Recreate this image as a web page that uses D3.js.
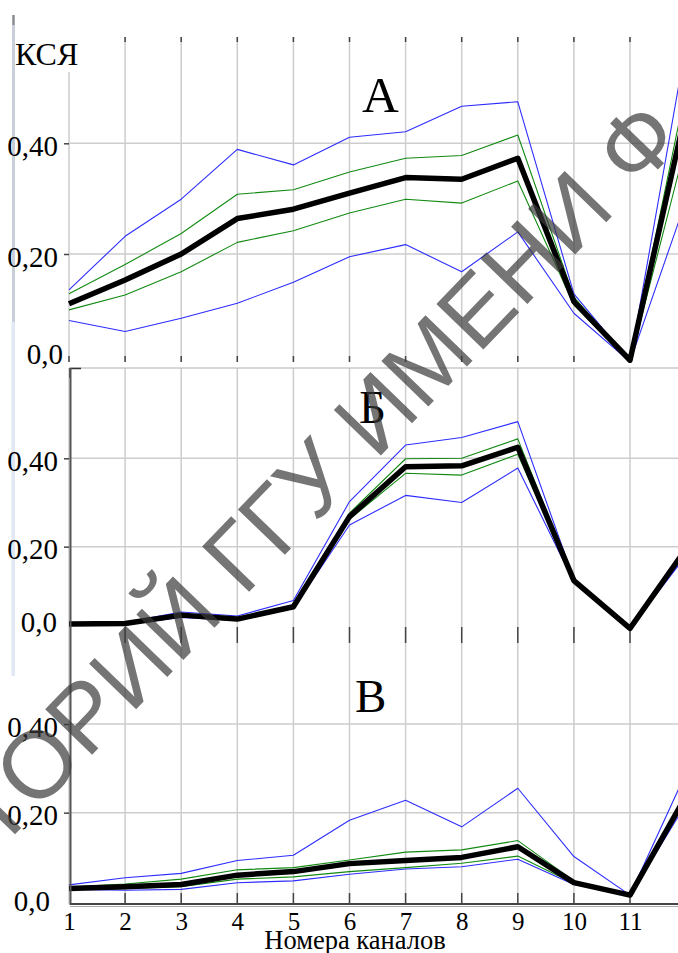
<!DOCTYPE html>
<html>
<head>
<meta charset="utf-8">
<script src="https://cdn.jsdelivr.net/npm/d3@7"></script>
<style>
  html, body { margin: 0; padding: 0; background: #fff; }
  svg { display: block; }
</style>
</head>
<body>
<svg id="chart" width="678" height="953"></svg>
<script>
// Channel numbers and axis text
const channels = [1, 2, 3, 4, 5, 6, 7, 8, 9, 10, 11, 12];
const xTickValues = [1, 2, 3, 4, 5, 6, 7, 8, 9, 10, 11];
const xTickLabels = ["1", "2", "3", "4", "5", "6", "7", "8", "9", "10", "11"];
const yTickValues = [0, 0.2, 0.4];
const yTickLabels = ["0,0", "0,20", "0,40"];
const panelTitles = ["А", "Б", "В"];
const yAxisTitle = "КСЯ";
const xAxisTitle = "Номера каналов";
const watermarkText = "РЕПОЗИТОРИЙ ГГУ ИМЕНИ Ф. СКОРИНЫ";

// Panel А: mean (black), inner band (green), outer band (blue)
const meanA       = [0.110, 0.153, 0.200, 0.264, 0.281, 0.310, 0.338, 0.335, 0.373, 0.114, 0.008, 0.460];
const upperGreenA = [0.128, 0.181, 0.237, 0.308, 0.316, 0.348, 0.373, 0.378, 0.415, 0.122, 0.007, 0.500];
const lowerGreenA = [0.099, 0.126, 0.168, 0.221, 0.242, 0.274, 0.299, 0.292, 0.332, 0.108, 0.005, 0.400];
const upperBlueA  = [0.135, 0.232, 0.299, 0.389, 0.361, 0.411, 0.421, 0.467, 0.475, 0.128, 0.006, 0.580];
const lowerBlueA  = [0.080, 0.060, 0.084, 0.111, 0.149, 0.195, 0.217, 0.168, 0.240, 0.093, 0.005, 0.297];

// Panel Б
const meanB       = [0.025, 0.026, 0.045, 0.036, 0.064, 0.268, 0.381, 0.383, 0.425, 0.123, 0.015, 0.195];
const upperGreenB = [0.026, 0.027, 0.047, 0.038, 0.067, 0.276, 0.399, 0.400, 0.444, 0.124, 0.015, 0.198];
const lowerGreenB = [0.025, 0.025, 0.043, 0.035, 0.062, 0.262, 0.366, 0.362, 0.409, 0.122, 0.015, 0.192];
const upperBlueB  = [0.026, 0.029, 0.052, 0.043, 0.078, 0.302, 0.430, 0.447, 0.483, 0.126, 0.016, 0.185];
const lowerBlueB  = [0.024, 0.024, 0.040, 0.033, 0.060, 0.249, 0.316, 0.300, 0.378, 0.120, 0.015, 0.180];

// Panel В
const meanC       = [0.029, 0.033, 0.038, 0.059, 0.067, 0.085, 0.092, 0.099, 0.123, 0.042, 0.014, 0.238];
const upperGreenC = [0.032, 0.039, 0.050, 0.071, 0.076, 0.093, 0.111, 0.116, 0.137, 0.046, 0.015, 0.245];
const lowerGreenC = [0.027, 0.029, 0.033, 0.050, 0.055, 0.067, 0.076, 0.086, 0.102, 0.040, 0.013, 0.228];
const upperBlueC  = [0.037, 0.053, 0.063, 0.092, 0.104, 0.183, 0.228, 0.168, 0.255, 0.101, 0.014, 0.290];
const lowerBlueC  = [0.027, 0.025, 0.027, 0.042, 0.046, 0.061, 0.073, 0.078, 0.095, 0.038, 0.013, 0.220];

// Styling and layout
const SERIF = "'Liberation Serif', 'Times New Roman', serif";
const SANS = "'Liberation Sans', Arial, sans-serif";
const GRID = "#cdcdcd";
const TICK = "#444";
const BLUE = "#2d2dff";
const GREEN = "#128a12";

const panels = [
  { title: panelTitles[0], mean: meanA, greens: [upperGreenA, lowerGreenA], blues: [upperBlueA, lowerBlueA],
    yZero: 364.7, yMax: 143.3, gridTop: 37, firstGridTop: 72, gridBottom: 362, clipTop: 20, clipBottom: 363,
    titleX: 362, titleY: 112, titleSize: 51, zeroLabelX: 63, zeroLabelShift: -10,
    topTicks: [37, 42], bottomTicks: [356, 362] },
  { title: panelTitles[1], mean: meanB, greens: [upperGreenB, lowerGreenB], blues: [upperBlueB, lowerBlueB],
    yZero: 635, yMax: 458.3, gridTop: 368, firstGridTop: 368, gridBottom: 650, clipTop: 368, clipBottom: 650,
    titleX: 359, titleY: 423, titleSize: 47, zeroLabelX: 57, zeroLabelShift: -12,
    topTicks: null, bottomTicks: [627, 643] },
  { title: panelTitles[2], mean: meanC, greens: [upperGreenC, lowerGreenC], blues: [upperBlueC, lowerBlueC],
    yZero: 901.3, yMax: 724, gridTop: 650, firstGridTop: 650, gridBottom: 904, clipTop: 645, clipBottom: 903,
    titleX: 355, titleY: 712, titleSize: 47, zeroLabelX: 50, zeroLabelShift: 0,
    topTicks: null, bottomTicks: [893, 903] }
];

const svg = d3.select("#chart");
const x = d3.scaleLinear().domain([1, 12]).range([69, 686.1]);
const rightEdge = 678;

// thin bar at the far left
svg.append("rect").attr("x", 12).attr("y", 15).attr("width", 3).attr("height", 307).attr("fill", "#c9cfd8");
svg.append("rect").attr("x", 11.5).attr("y", 322).attr("width", 3.5).attr("height", 354).attr("fill", "#dfe8f3");
svg.append("rect").attr("x", 12.5).attr("y", 15).attr("width", 2).attr("height", 10).attr("fill", "#888");

const defs = svg.append("defs");

panels.forEach((p, i) => {
  const y = d3.scaleLinear().domain([0, 0.4]).range([p.yZero, p.yMax]);
  const g = svg.append("g");

  // vertical grid lines at each channel
  g.append("g").selectAll("line").data(xTickValues).join("line")
    .attr("x1", d => x(d)).attr("x2", d => x(d))
    .attr("y1", d => d === 1 ? p.firstGridTop : p.gridTop).attr("y2", p.gridBottom)
    .attr("stroke", GRID).attr("stroke-width", 1.5);

  // horizontal grid lines
  g.append("g").selectAll("line").data(yTickValues.filter(v => v > 0)).join("line")
    .attr("x1", x(1)).attr("x2", rightEdge)
    .attr("y1", d => y(d)).attr("y2", d => y(d))
    .attr("stroke", GRID).attr("stroke-width", 1.5);

  // short dark tick marks along the channel lines
  const tickSets = [p.topTicks, p.bottomTicks].filter(Boolean);
  tickSets.forEach(t => {
    g.append("g").selectAll("line").data(xTickValues.filter(d => d > 1 || t === p.bottomTicks && i === 0)).join("line")
      .attr("x1", d => x(d)).attr("x2", d => x(d))
      .attr("y1", t[0]).attr("y2", t[1])
      .attr("stroke", TICK).attr("stroke-width", 1.5);
  });

  // y axis: outward ticks and labels
  const yAxis = d3.axisLeft(y)
    .tickValues(yTickValues.filter(v => v > 0))
    .tickSize(5).tickPadding(6)
    .tickFormat(v => yTickLabels[yTickValues.indexOf(v)]);
  const ya = g.append("g").attr("transform", `translate(${x(1)},0)`).call(yAxis);
  ya.select(".domain").remove();
  ya.selectAll(".tick line").attr("stroke", TICK).attr("stroke-width", 1.5);
  ya.selectAll(".tick text")
    .attr("font-family", SERIF).attr("font-size", 29).attr("fill", "#000")
    .attr("dy", "0.32em").attr("y", 3);

  // zero label
  g.append("text")
    .attr("x", p.zeroLabelX).attr("y", y(0) + p.zeroLabelShift).attr("dy", "0.32em")
    .attr("text-anchor", "end")
    .attr("font-family", SERIF).attr("font-size", 29).attr("fill", "#000")
    .text(yTickLabels[0]);

  // clipped plotting area
  const clipId = "clip" + i;
  defs.append("clipPath").attr("id", clipId).append("rect")
    .attr("x", 60).attr("y", p.clipTop).attr("width", rightEdge - 60).attr("height", p.clipBottom - p.clipTop);
  const plot = g.append("g").attr("clip-path", `url(#${clipId})`);

  const line = d3.line().x((d, k) => x(channels[k])).y(d => y(d));

  plot.selectAll("path.blue").data(p.blues).join("path").attr("class", "blue")
    .attr("d", line).attr("fill", "none").attr("stroke", BLUE).attr("stroke-width", 1.1)
    .attr("stroke-linejoin", "round");
  plot.selectAll("path.green").data(p.greens).join("path").attr("class", "green")
    .attr("d", line).attr("fill", "none").attr("stroke", GREEN).attr("stroke-width", 1.1)
    .attr("stroke-linejoin", "round");
  plot.append("path").datum(p.mean)
    .attr("d", line).attr("fill", "none").attr("stroke", "#000").attr("stroke-width", 5.5)
    .attr("stroke-linejoin", "round");

  // panel title
  g.append("text")
    .attr("x", p.titleX).attr("y", p.titleY)
    .attr("font-family", SERIF).attr("font-size", p.titleSize).attr("fill", "#000")
    .text(p.title);
});

// frame of the lower two panels
svg.append("line").attr("x1", 70).attr("x2", rightEdge).attr("y1", 368).attr("y2", 368)
  .attr("stroke", "#b0b0b0").attr("stroke-width", 1.2);
svg.append("path").attr("d", "M70,378 V368.5 H81").attr("fill", "none").attr("stroke", "#333").attr("stroke-width", 1.5);
svg.append("line").attr("x1", 70.5).attr("x2", 70.5).attr("y1", 368).attr("y2", 905)
  .attr("stroke", "#555").attr("stroke-width", 2);
svg.append("line").attr("x1", 70).attr("x2", rightEdge).attr("y1", 904).attr("y2", 904)
  .attr("stroke", "#444").attr("stroke-width", 2);
svg.append("line").attr("x1", 70).attr("x2", rightEdge).attr("y1", 906.5).attr("y2", 906.5)
  .attr("stroke", "#aaa").attr("stroke-width", 1);

// channel numbers along the bottom
const xAxis = d3.axisBottom(x).tickValues(xTickValues).tickSize(0).tickPadding(0)
  .tickFormat(v => xTickLabels[xTickValues.indexOf(v)]);
const xa = svg.append("g").attr("transform", "translate(0,930)").call(xAxis);
xa.select(".domain").remove();
xa.selectAll(".tick text")
  .attr("font-family", SERIF).attr("font-size", 25).attr("fill", "#000")
  .attr("dy", 0).attr("y", 0);

// axis titles
svg.append("text").attr("x", 355).attr("y", 949).attr("text-anchor", "middle")
  .attr("font-family", SERIF).attr("font-size", 26.5).attr("fill", "#000").text(xAxisTitle);
svg.append("text").attr("x", 15).attr("y", 65)
  .attr("font-family", SERIF).attr("font-size", 32).attr("fill", "#000").text(yAxisTitle);

// diagonal watermark
const wmGroup = svg.append("g");
const wm = wmGroup.append("text")
  .attr("x", 0).attr("y", 0)
  .attr("font-family", SANS).attr("font-size", 95)
  .attr("fill", "#3a3a3a").attr("fill-opacity", 0.7)
  .text(watermarkText);
const ext = wm.node().getExtentOfChar(12);
const cx = ext.x + ext.width / 2, cy = ext.y + ext.height / 2;
wmGroup.attr("transform", `translate(238,556) rotate(-46) translate(${-cx},${-cy})`);
</script>
</body>
</html>
